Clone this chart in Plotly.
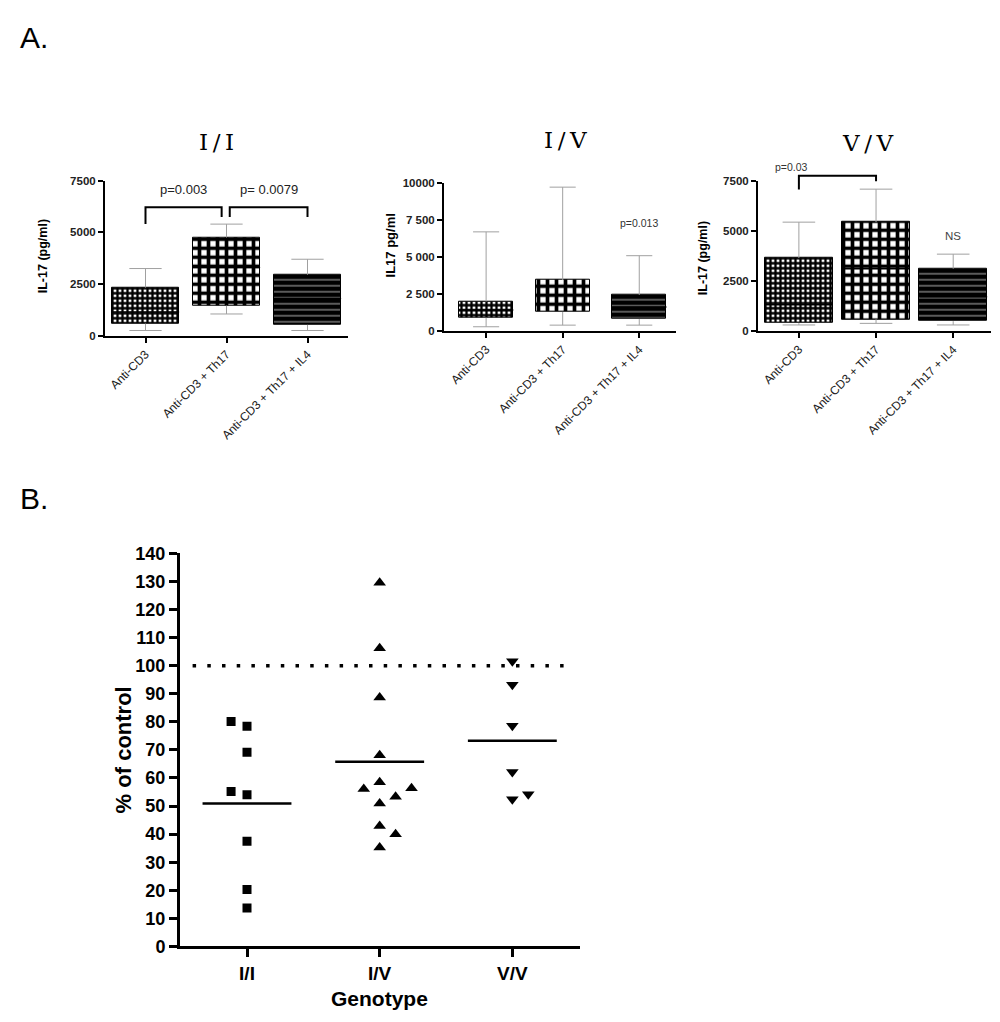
import plotly.graph_objects as go

# ---------------- DATA ----------------
conditions = ["Anti-CD3", "Anti-CD3 + Th17", "Anti-CD3 + Th17 + IL4"]

# Panel A box summaries (IL-17 pg/ml)
ii_min = [250, 1050, 250]
ii_q1 = [580, 1450, 520]
ii_med = [1150, 3300, 1800]
ii_q3 = [2330, 4750, 2950]
ii_max = [3250, 5400, 3700]

iv_min = [270, 380, 380]
iv_q1 = [880, 1270, 790]
iv_med = [1400, 3000, 1600]
iv_q3 = [1980, 3420, 2420]
iv_max = [6680, 9700, 5070]

vv_min = [290, 370, 290]
vv_q1 = [380, 570, 480]
vv_med = [1300, 3100, 1700]
vv_q3 = [3640, 5430, 3100]
vv_max = [5430, 7080, 3830]

ii_yticks = [0, 2500, 5000, 7500]
ii_yticktext = ["0", "2500", "5000", "7500"]
iv_yticks = [0, 2500, 5000, 7500, 10000]
iv_yticktext = ["0", "2 500", "5 000", "7 500", "10000"]
vv_yticks = [0, 2500, 5000, 7500]
vv_yticktext = ["0", "2500", "5000", "7500"]

# significance annotations
ii_brackets = [  # (x_left, x_right, y_top, y_left_leg, y_right_leg, label)
    (0.0, 0.94, 6220, 5410, 5740, "p=0.003"),
    (1.04, 2.0, 6220, 5740, 5740, "p= 0.0079"),
]
iv_label = ("p=0.013", 2.0, 7290)
vv_bracket = (0.0, 1.0, 7745, 7060, 7470, "p=0.03")
vv_ns = ("NS", 2.0, 4760)

# Panel B: % of control
genotypes = ["I/I", "I/V", "V/V"]
b_ii = [80.1, 78.4, 69.2, 55.2, 54.0, 37.5, 20.3, 13.7]
b_ii_jit = [-0.12, 0, 0, -0.12, 0, 0, 0, 0]
b_iv = [129.5, 106.2, 88.7, 68.1, 58.5, 56.1, 56.3, 53.3, 50.9, 42.9, 40.0, 35.2]
b_iv_jit = [0, 0, 0, 0, 0, -0.12, 0.24, 0.12, 0, 0, 0.12, 0]
b_vv = [101.6, 93.2, 78.6, 62.1, 54.2, 52.4]
b_vv_jit = [0, 0, 0, 0, 0.12, 0]
b_means = [50.9, 65.8, 73.3]
control_level = 100
b_yticks = list(range(0, 141, 10))

# ---------------- FIGURE ----------------
fig = go.Figure()
SANS = "Liberation Sans"

patterns = [
    dict(shape="+", bgcolor="white", fgcolor="black", size=5, solidity=0.7, fillmode="replace"),
    dict(shape="+", bgcolor="white", fgcolor="black", size=9, solidity=0.65, fillmode="replace"),
    dict(shape="-", bgcolor="black", fgcolor="#c8c8c8", size=6, solidity=0.15, fillmode="replace"),
]
pat_colors = ["black", "black", "#c8c8c8"]

panels = [
    ("x", "y", ii_min, ii_q1, ii_med, ii_q3, ii_max, 0.83),
    ("x2", "y2", iv_min, iv_q1, iv_med, iv_q3, iv_max, 0.71),
    ("x3", "y3", vv_min, vv_q1, vv_med, vv_q3, vv_max, 0.88),
]

for xa, ya, mn, q1, md, q3, mx, bw in panels:
    for i in range(3):
        fig.add_trace(go.Bar(
            x=[i], y=[q3[i] - q1[i]], base=[q1[i]], width=bw,
            marker=dict(color=pat_colors[i], pattern=patterns[i],
                        line=dict(color="black", width=1)),
            xaxis=xa, yaxis=ya, showlegend=False, hoverinfo="skip"))
    # whiskers + caps
    wx, wy = [], []
    cap = 0.24 * bw
    for i in range(3):
        wx += [i, i, None, i, i, None, i - cap, i + cap, None, i - cap, i + cap, None]
        wy += [q3[i], mx[i], None, q1[i], mn[i], None, mx[i], mx[i], None, mn[i], mn[i], None]
    fig.add_trace(go.Scatter(x=wx, y=wy, mode="lines",
                             line=dict(color="#a0a0a0", width=1),
                             xaxis=xa, yaxis=ya, showlegend=False, hoverinfo="skip"))
    # medians
    mxs, mys = [], []
    for i in range(3):
        mxs += [i - bw / 2, i + bw / 2, None]
        mys += [md[i], md[i], None]
    fig.add_trace(go.Scatter(x=mxs, y=mys, mode="lines",
                             line=dict(color="black", width=1.5),
                             xaxis=xa, yaxis=ya, showlegend=False, hoverinfo="skip"))

annotations = []

# brackets I/I
for xl, xr, yt, yl, yr, lab in ii_brackets:
    fig.add_trace(go.Scatter(x=[xl, xl, xr, xr], y=[yl, yt, yt, yr], mode="lines",
                             line=dict(color="black", width=2),
                             xaxis="x", yaxis="y", showlegend=False, hoverinfo="skip"))
    annotations.append(dict(x=(xl + xr) / 2, y=yt, xref="x", yref="y", text=lab,
                            showarrow=False, yanchor="bottom", yshift=8,
                            font=dict(family=SANS, size=13, color="#222")))

annotations.append(dict(x=iv_label[1], y=iv_label[2], xref="x2", yref="y2", text=iv_label[0],
                        showarrow=False, font=dict(family=SANS, size=10.5, color="#333")))

# V/V bracket drawn on an invisible overlay axis pair that extends above the data axis
xl, xr, yt, yl, yr, lab = vv_bracket
fig.add_trace(go.Scatter(x=[xl, xl, xr, xr], y=[yl, yt, yt, yr], mode="lines",
                         line=dict(color="black", width=2),
                         xaxis="x5", yaxis="y5", showlegend=False, hoverinfo="skip"))
annotations.append(dict(x=xl - 0.1, y=yt, xref="x5", yref="y5", text=lab,
                        showarrow=False, yanchor="bottom", yshift=1,
                        font=dict(family=SANS, size=10.5, color="#333")))
annotations.append(dict(x=vv_ns[1], y=vv_ns[2], xref="x3", yref="y3", text=vv_ns[0],
                        showarrow=False, font=dict(family=SANS, size=11.5, color="#444")))

# Panel B points
groups = [(b_ii, b_ii_jit, "square", 9), (b_iv, b_iv_jit, "triangle-up", 11),
          (b_vv, b_vv_jit, "triangle-down", 11)]
for gi, (vals, jit, sym, sz) in enumerate(groups):
    fig.add_trace(go.Scatter(x=[gi + j for j in jit], y=vals, mode="markers",
                             marker=dict(symbol=sym, size=sz, color="black"),
                             xaxis="x4", yaxis="y4", showlegend=False, hoverinfo="skip"))
    fig.add_trace(go.Scatter(x=[gi - 0.335, gi + 0.335], y=[b_means[gi], b_means[gi]],
                             mode="lines", line=dict(color="black", width=2.5),
                             xaxis="x4", yaxis="y4", showlegend=False, hoverinfo="skip"))

fig.add_trace(go.Scatter(x=[-0.41, 2.42], y=[control_level, control_level], mode="lines",
                         line=dict(color="black", width=3.5, dash="3.5px,11.2px"),
                         xaxis="x4", yaxis="y4", showlegend=False, hoverinfo="skip"))

# ---------------- AXES ----------------
H = 1022.0


def ydom(top, bottom):
    return [1 - bottom / H, 1 - top / H]


axA_x = dict(showline=True, linecolor="black", linewidth=2, ticks="outside", ticklen=5,
             tickwidth=2, tickcolor="black", showgrid=False, zeroline=False,
             tickvals=[0, 1, 2], ticktext=conditions, tickangle=-45,
             tickfont=dict(family=SANS, size=12, color="#222"))
axA_y = dict(showline=True, linecolor="black", linewidth=2, ticks="outside", ticklen=5,
             tickwidth=2, tickcolor="black", showgrid=False, zeroline=False,
             tickfont=dict(family=SANS, size=11.5, color="#222", weight="bold"))

vv_top, vv_bot = 166, 319
aux_max = 9000
aux_top = vv_bot - (vv_bot - vv_top) * aux_max / 7500.0

fig.update_layout(
    width=1000, height=1022, margin=dict(l=0, r=0, t=0, b=0),
    paper_bgcolor="white", plot_bgcolor="rgba(0,0,0,0)", bargap=0, barmode="overlay",
    xaxis=dict(axA_x, domain=[0.097, 0.340], range=[-0.5, 2.5], anchor="y"),
    yaxis=dict(axA_y, domain=ydom(166, 324), range=[0, 7500], anchor="x",
               tickvals=ii_yticks, ticktext=ii_yticktext),
    xaxis2=dict(axA_x, domain=[0.436, 0.668], range=[-0.55, 2.48], anchor="y2"),
    yaxis2=dict(axA_y, domain=ydom(168, 319), range=[0, 10000], anchor="x2",
                tickvals=iv_yticks, ticktext=iv_yticktext),
    xaxis3=dict(axA_x, domain=[0.750, 0.983], range=[-0.53, 2.49], anchor="y3"),
    yaxis3=dict(axA_y, domain=ydom(vv_top, vv_bot), range=[0, 7500], anchor="x3",
                tickvals=vv_yticks, ticktext=vv_yticktext),
    xaxis5=dict(domain=[0.750, 0.983], range=[-0.53, 2.49], anchor="y5", visible=False),
    yaxis5=dict(domain=ydom(aux_top, vv_bot), range=[0, aux_max], anchor="x5", visible=False),
    xaxis4=dict(domain=[0.172, 0.572], range=[-0.505, 2.51], anchor="y4",
                showline=True, linecolor="black", linewidth=3, ticks="outside", ticklen=8,
                tickwidth=3, tickcolor="black", showgrid=False, zeroline=False,
                tickvals=[0, 1, 2], ticktext=genotypes,
                tickfont=dict(family=SANS, size=19, color="black", weight="bold")),
    yaxis4=dict(domain=ydom(546, 947), range=[0, 140], anchor="x4",
                showline=True, linecolor="black", linewidth=3, ticks="outside", ticklen=8,
                tickwidth=3, tickcolor="black", showgrid=False, zeroline=False,
                tickvals=b_yticks,
                tickfont=dict(family=SANS, size=18, color="black", weight="bold")),
)


# titles and labels
def pa(x, y, text, size, family=SANS, angle=0, weight="normal", color="black"):
    annotations.append(dict(x=x / 1000.0, y=1 - y / H, xref="paper", yref="paper", text=text,
                            showarrow=False, textangle=angle, xanchor="center", yanchor="middle",
                            font=dict(family=family, size=size, color=color, weight=weight)))


pa(26, 20, "A.", 30)
pa(26, 490, "B.", 30)
pa(208, 126, "I\u2009/\u2009I", 23, family="DejaVu Serif")
pa(557, 124, "I\u2009/\u2009V", 23, family="DejaVu Serif")
pa(860, 127, "V\u2009/\u2009V", 23, family="DejaVu Serif")
pa(35, 243, "IL-17 (pg/ml)", 12.5, angle=-90, weight="bold")
pa(382, 232, "IL17 pg/ml", 13, angle=-90, weight="bold")
pa(695, 245, "IL-17 (pg/ml)", 12.5, angle=-90, weight="bold")
pa(115, 747, "% of control", 22, angle=-90, weight="bold")
pa(371, 1000, "Genotype", 21, weight="bold")

fig.update_layout(annotations=annotations)

fig.write_html("out.html")
